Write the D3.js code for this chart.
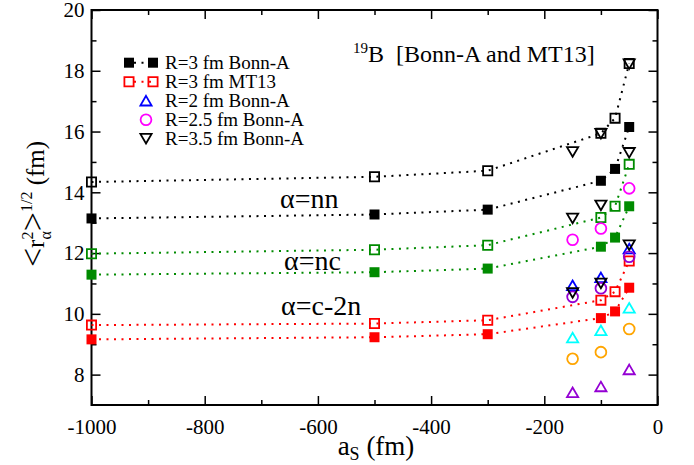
<!DOCTYPE html>
<html>
<head>
<meta charset="utf-8">
<script src="https://cdn.jsdelivr.net/npm/d3@7"></script>
<style>
body { margin: 0; background: #fff; }
svg { display: block; }
text { white-space: pre; font-family: "Liberation Serif", "DejaVu Serif", serif; }
</style>
</head>
<body>
<div id="chart"></div>
<script>
// values
const aS = [-1000, -500, -300, -100, -75, -50];
const nnBonn = [13.14, 13.27, 13.43, 14.38, 14.77, 16.15];
const nnMT13 = [14.34, 14.51, 14.71, 15.94, 16.44, 18.24];
const ncBonn = [11.29, 11.37, 11.49, 12.21, 12.51, 13.54];
const ncMT13 = [11.98, 12.11, 12.26, 13.17, 13.54, 14.92];
const c2nBonn = [9.16, 9.23, 9.33, 9.86, 10.08, 10.86];
const c2nMT13 = [9.63, 9.68, 9.79, 10.45, 10.73, 11.74];

// other cluster radii, only at three scattering lengths
const aSR = [-150, -100, -50];
const r2nn = [10.94, 11.2, 12.15];
const r2nc = [9.22, 9.46, 10.2];
const r2c2n = [7.42, 7.61, 8.17];
const r25nn = [12.44, 12.81, 14.13];
const r25nc = [10.56, 10.84, 11.88];
const r25c2n = [8.52, 8.74, 9.5];
const r35nn = [15.33, 15.93, 18.22];
const r35nc = [13.14, 13.57, 15.3];
const r35c2n = [10.69, 11.0, 12.26];

const xTicks = [-1000, -800, -600, -400, -200, 0];
const yTicks = [8, 10, 12, 14, 16, 18, 20];
const legendLabels = ["R=3 fm Bonn-A", "R=3 fm MT13", "R=2 fm Bonn-A", "R=2.5 fm Bonn-A", "R=3.5 fm Bonn-A"];

const FONT = "'Liberation Serif', 'DejaVu Serif', serif";
const svgWidth = 694;
const svgHeight = 465;
const margin = { top: 10, right: 36.5, bottom: 60, left: 91.5 };
const width = svgWidth - margin.left - margin.right;
const height = svgHeight - margin.top - margin.bottom;

const svg = d3.select("#chart")
    .append("svg")
    .attr("width", svgWidth)
    .attr("height", svgHeight)
    .attr("font-family", FONT);

const g = svg.append("g")
    .attr("transform", `translate(${margin.left},${margin.top})`);

const x = d3.scaleLinear().domain([-1000, 0]).range([0, width]);
const y = d3.scaleLinear().domain([7, 20]).range([height, 0]);

// symbol outlines, centred on 0,0
function shape(type) {
    if (type === "square") return "M-5,-5H5V5H-5Z";
    if (type === "osquare") return "M-4.6,-4.6H4.6V4.6H-4.6Z";
    if (type === "tri") return "M0,-4.8L5.6,4.8L-5.6,4.8Z";
    if (type === "itri") return "M0,4.8L5.6,-4.8L-5.6,-4.8Z";
    const p = d3.path();
    p.arc(0, 0, 5.4, 0, 2 * Math.PI);
    p.closePath();
    return p.toString();
}

function drawSymbol(sel, type, color) {
    const filled = type === "square";
    sel.append("path")
        .attr("d", shape(type))
        .attr("fill", filled ? color : "none")
        .attr("stroke", filled ? "none" : color)
        .attr("stroke-width", 1.8)
        .attr("stroke-linejoin", "miter");
}

// axes: ticks point inward on all four sides
function axisSet(axisFn, values, size, labels) {
    return axisFn.tickValues(values)
        .tickSizeInner(-size).tickSizeOuter(0)
        .tickFormat(labels ? (d => String(d)) : "");
}
const xMinor = d3.range(-900, 0, 200);
const yMinor = [9, 11, 13, 15, 17, 19];

function styleAxis(sel) {
    sel.attr("font-family", FONT);
    sel.select(".domain").remove();
    sel.selectAll("line").attr("stroke", "#000").attr("stroke-width", 1.5);
    sel.selectAll("text")
        .attr("fill", "#000")
        .attr("font-family", FONT)
        .attr("font-size", 21);
}

g.append("g").attr("transform", `translate(0,${height})`)
    .call(axisSet(d3.axisBottom(x), xTicks, 9, true).tickPadding(14)).call(styleAxis);
g.append("g").attr("transform", `translate(0,${height})`)
    .call(axisSet(d3.axisBottom(x), xMinor, 5, false)).call(styleAxis);
g.append("g")
    .call(axisSet(d3.axisTop(x), xTicks, 9, false)).call(styleAxis);
g.append("g")
    .call(axisSet(d3.axisTop(x), xMinor, 5, false)).call(styleAxis);
g.append("g")
    .call(axisSet(d3.axisLeft(y), yTicks, 9, true).tickPadding(7)).call(styleAxis);
g.append("g")
    .call(axisSet(d3.axisLeft(y), yMinor, 5, false)).call(styleAxis);
g.append("g").attr("transform", `translate(${width},0)`)
    .call(axisSet(d3.axisRight(y), yTicks, 9, false)).call(styleAxis);
g.append("g").attr("transform", `translate(${width},0)`)
    .call(axisSet(d3.axisRight(y), yMinor, 5, false)).call(styleAxis);

g.append("rect")
    .attr("width", width).attr("height", height)
    .attr("fill", "none").attr("stroke", "#000").attr("stroke-width", 2);

// dotted curves for R=3 fm
const line = d3.line().x(d => x(d[0])).y(d => y(d[1]));
const squareSeries = [
    { vals: nnMT13, color: "#000000", type: "osquare" },
    { vals: nnBonn, color: "#000000", type: "square" },
    { vals: ncMT13, color: "#008b00", type: "osquare" },
    { vals: ncBonn, color: "#008b00", type: "square" },
    { vals: c2nMT13, color: "#ff0000", type: "osquare" },
    { vals: c2nBonn, color: "#ff0000", type: "square" }
];

squareSeries.forEach(s => {
    g.append("path")
        .attr("d", line(aS.map((a, i) => [a, s.vals[i]])))
        .attr("fill", "none")
        .attr("stroke", s.color)
        .attr("stroke-width", 2)
        .attr("stroke-dasharray", "2,5.5");
});

const scatterSeries = [
    { vals: r2nn, color: "#0000ff", type: "tri" },
    { vals: r2nc, color: "#00ffff", type: "tri" },
    { vals: r2c2n, color: "#9400d3", type: "tri" },
    { vals: r25nn, color: "#ff00ff", type: "circle" },
    { vals: r25nc, color: "#9400d3", type: "circle" },
    { vals: r25c2n, color: "#ffa500", type: "circle" },
    { vals: r35nn, color: "#000000", type: "itri" },
    { vals: r35nc, color: "#000000", type: "itri" },
    { vals: r35c2n, color: "#000000", type: "itri" }
];

squareSeries.forEach(s => {
    aS.forEach((a, i) => {
        g.append("g")
            .attr("transform", `translate(${x(a)},${y(s.vals[i])})`)
            .call(drawSymbol, s.type, s.color);
    });
});
scatterSeries.forEach(s => {
    aSR.forEach((a, i) => {
        g.append("g")
            .attr("transform", `translate(${x(a)},${y(s.vals[i])})`)
            .call(drawSymbol, s.type, s.color);
    });
});

// legend
const legend = svg.append("g");
const legendSyms = [
    { type: "square", color: "#000000", pair: true },
    { type: "osquare", color: "#ff0000", pair: true },
    { type: "tri", color: "#0000ff" },
    { type: "circle", color: "#ff00ff" },
    { type: "itri", color: "#000000" }
];
legendLabels.forEach((label, i) => {
    const cy = 62.7 + i * 19;
    const sym = legendSyms[i];
    if (sym.pair) {
        legend.append("line")
            .attr("x1", 129).attr("x2", 153).attr("y1", cy).attr("y2", cy)
            .attr("stroke", sym.color).attr("stroke-width", 2)
            .attr("stroke-dasharray", "2,5.5").attr("stroke-dashoffset", -5);
        legend.append("g").attr("transform", `translate(129,${cy})`).call(drawSymbol, sym.type, sym.color);
        legend.append("g").attr("transform", `translate(153,${cy})`).call(drawSymbol, sym.type, sym.color);
    } else {
        legend.append("g").attr("transform", `translate(146,${cy})`).call(drawSymbol, sym.type, sym.color);
    }
    legend.append("text")
        .attr("x", 165).attr("y", cy + 6)
        .attr("font-size", 19)
        .text(label);
});

// title
const title = svg.append("text").attr("x", 353).attr("y", 52.5);
title.append("tspan").attr("font-size", 15).text("19");
title.append("tspan").attr("dy", 9).attr("font-size", 24).text("B  [Bonn-A and MT13]");

// channel labels
svg.append("text").attr("x", 280).attr("y", 208).attr("font-size", 28).text("α=nn");
svg.append("text").attr("x", 284).attr("y", 270).attr("font-size", 28).text("α=nc");
svg.append("text").attr("x", 281).attr("y", 315).attr("font-size", 28).text("α=c-2n");

// x axis label
const xl = svg.append("text").attr("x", 376).attr("y", 455).attr("text-anchor", "middle").attr("font-size", 27);
xl.append("tspan").text("a");
xl.append("tspan").attr("dy", 5).attr("font-size", 18).text("S");
xl.append("tspan").attr("dy", -5).text(" (fm)");

// y axis label
const yl = svg.append("text")
    .attr("transform", "translate(44,204) rotate(-90)")
    .attr("text-anchor", "middle")
    .attr("font-size", 25);
yl.append("tspan").attr("font-size", 34).text("<");
yl.append("tspan").text("r");
yl.append("tspan").attr("dy", -11).attr("font-size", 16).text("2");
yl.append("tspan").attr("dx", -8).attr("dy", 18).attr("font-size", 16).text("α");
yl.append("tspan").attr("dy", -7).attr("font-size", 34).text(">");
yl.append("tspan").attr("dy", -12).attr("font-size", 16).text("1/2");
yl.append("tspan").attr("dy", 12).text(" (fm)");
</script>
</body>
</html>
